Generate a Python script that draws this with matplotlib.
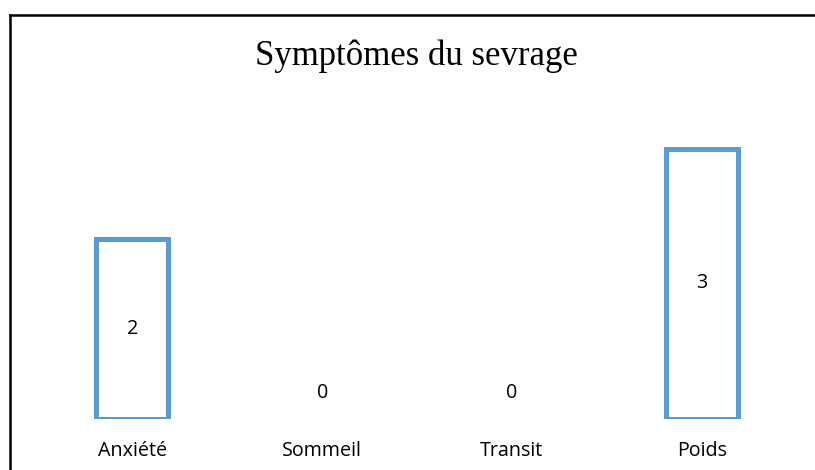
import matplotlib
matplotlib.use("Agg")
import matplotlib.pyplot as plt
from matplotlib.lines import Line2D

categories = ["Anxiété", "Sommeil", "Transit", "Poids"]
values = [2, 0, 0, 3]
title = "Symptômes du sevrage"

W, H = 815, 470
fig = plt.figure(figsize=(W / 100, H / 100), dpi=100)

# axes placement (pixels -> fraction)
left_px, right_px = 37.6, 796.6
base_px = 418.5  # baseline from top
unit_px = 90
ymax = 4.0
top_px = base_px - ymax * unit_px
ax = fig.add_axes([left_px / W, (H - base_px) / H, (right_px - left_px) / W, (base_px - top_px) / H])
ax.set_xlim(-0.5, len(categories) - 0.5)
ax.set_ylim(0, ymax)
ax.axis("off")

x = list(range(len(categories)))
edges = ["#5B9BD5" if v > 0 else "none" for v in values]
ax.bar(x, values, width=72 / 189.75, facecolor="none", edgecolor=edges, linewidth=3.6)

lab_font = dict(family=["Open Sans", "DejaVu Sans"], fontsize=14.2, color="black")
for xi, v in zip(x, values):
    if v > 0:
        ax.text(xi, v / 2, str(v), ha="center", va="center", **lab_font)
    else:
        ax.text(xi, (base_px - 393) / unit_px, str(v), ha="center", va="center", **lab_font)

for xi, c in zip(x, categories):
    ax.text(xi, -(455.7 - base_px) / unit_px, c, ha="center", va="baseline", **lab_font)

fig.text(416 / W, 1 - 65 / H, title, ha="center", va="baseline",
         family=["Liberation Serif", "DejaVu Serif"], fontsize=25)

# frame lines (left and top)
fig.add_artist(Line2D([9.5 / W, 9.5 / W], [0, 1 - 15 / H], color="black", linewidth=1.8, transform=fig.transFigure))
fig.add_artist(Line2D([9.5 / W, 1], [1 - 15 / H, 1 - 15 / H], color="black", linewidth=1.8, transform=fig.transFigure))

fig.savefig("out.png", dpi=100)
